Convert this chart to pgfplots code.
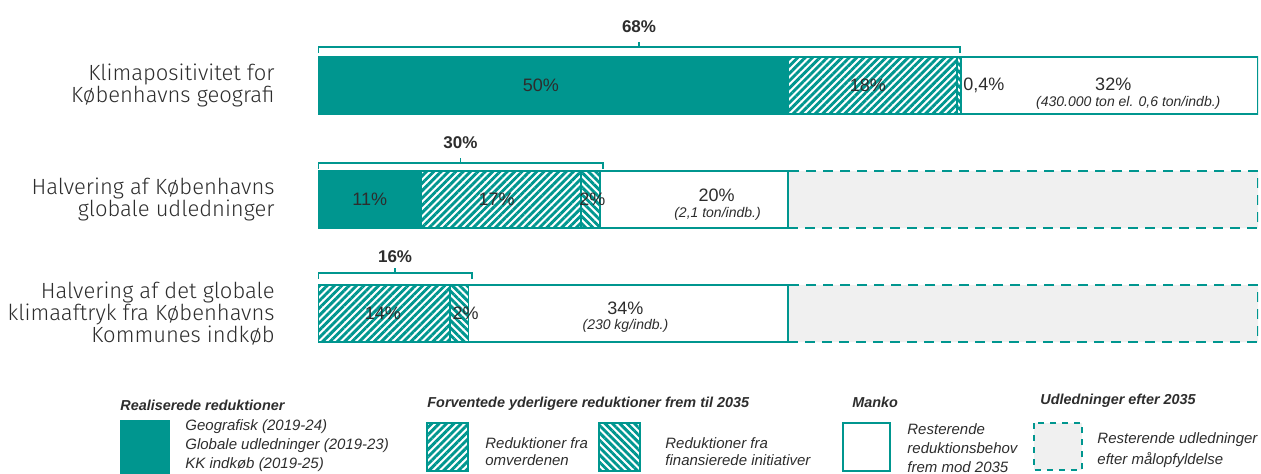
\documentclass[border=0pt]{standalone}
\usepackage{fontspec}
\setmainfont{Liberation Sans}
\newfontfamily\labfont{Fira Sans Light}
\usepackage{pgfplots}
\pgfplotsset{compat=1.18}
\usetikzlibrary{patterns.meta}

\definecolor{kkteal}{RGB}{0,150,143}
\definecolor{kkgrey}{RGB}{240,240,240}
\definecolor{kktext}{RGB}{45,45,45}

\tikzset{
  hatchA/.style={pattern={Lines[angle=45,distance=2.6pt,line width=1.45pt]}, pattern color=kkteal},
  hatchB/.style={pattern={Lines[angle=-45,distance=2.6pt,line width=1.45pt]}, pattern color=kkteal},
  val/.style={font=\fontsize{9}{10}\selectfont, text=kktext, inner sep=0pt},
  sub/.style={font=\itshape\fontsize{7}{8}\selectfont, text=kktext, inner sep=0pt},
  brk/.style={draw=kkteal, line width=0.8pt},
  brklab/.style={font=\bfseries\fontsize{8.5}{10}\selectfont, text=kktext, inner sep=0pt},
  hd/.style={anchor=west, inner sep=0pt, text=kktext, font=\bfseries\itshape\fontsize{7.2}{8}\selectfont},
  lg/.style={anchor=west, inner sep=0pt, text=kktext, font=\itshape\fontsize{7.5}{9}\selectfont},
}

\begin{document}
\begin{tikzpicture}
\path[use as bounding box] (0,0) rectangle (630.5pt,-236.5pt);
\begin{axis}[
  at={(159pt,0pt)}, anchor=north west,
  scale only axis, width=470pt, height=185.25pt,
  xbar stacked, bar width=28.5pt,
  xmin=0, xmax=100, ymin=-0.75, ymax=2.5, y dir=reverse,
  ytick={0,1,2}, xtick=\empty,
  yticklabels={{Klimapositivitet for\\Københavns geografi},
               {Halvering af Københavns\\globale udledninger},
               {Halvering af det globale\\klimaaftryk fra Københavns\\Kommunes indkøb}},
  yticklabel style={align=right, font=\labfont\fontsize{11}{11}\selectfont,
                    text=kktext, inner sep=0pt, xshift=-21.5pt},
  axis line style={draw=none}, major tick length=0pt,
  every axis plot/.append style={line width=0.9pt, draw=kkteal},
]
% realiserede, omverdenen, finansierede, manko, efter 2035
\addplot[fill=kkteal] coordinates {(50,0) (11,1) (0,2)};
\addplot[hatchA] coordinates {(18,0) (17,1) (14,2)};
\addplot[hatchB] coordinates {(0.4,0) (2,1) (2,2)};
\addplot[fill=white] coordinates {(31.6,0) (20,1) (34,2)};
\addplot[fill=kkgrey, dash pattern=on 5pt off 3.5pt] coordinates {(0,0) (50,1) (50,2)};

% anchors for the value labels (drawn after the axis, on top of the bars)
\coordinate (a1) at (axis cs:23.7,0);
\coordinate (a2) at (axis cs:58.5,0);
\coordinate (a3) at (axis cs:68.6,0);
\coordinate (a4) at (axis cs:84.6,-0.013);
\coordinate (a5) at (axis cs:86.2,0.154);
\coordinate (b1) at (axis cs:5.5,1);
\coordinate (b2) at (axis cs:19,1);
\coordinate (b3) at (axis cs:29.2,1);
\coordinate (b4) at (axis cs:42.4,0.96);
\coordinate (b5) at (axis cs:42.5,1.127);
\coordinate (c1) at (axis cs:6.9,2);
\coordinate (c2) at (axis cs:15.7,2);
\coordinate (c3) at (axis cs:32.7,1.95);
\coordinate (c4) at (axis cs:32.7,2.11);

% brackets
\draw[brk] (axis cs:0,-0.285) -- (axis cs:0,-0.338) -- (axis cs:68.3,-0.338) -- (axis cs:68.3,-0.285);
\draw[brk] (axis cs:34.15,-0.338) -- (axis cs:34.15,-0.38);
\node[brklab] at (axis cs:34.15,-0.513) {68\%};
\draw[brk] (axis cs:0,0.73) -- (axis cs:0,0.68) -- (axis cs:30.3,0.68) -- (axis cs:30.3,0.73);
\draw[brk] (axis cs:15.15,0.68) -- (axis cs:15.15,0.64);
\node[brklab] at (axis cs:15.15,0.504) {30\%};
\draw[brk] (axis cs:0,1.70) -- (axis cs:0,1.645) -- (axis cs:16.4,1.645) -- (axis cs:16.4,1.70);
\draw[brk] (axis cs:8.2,1.645) -- (axis cs:8.2,1.60);
\node[brklab] at (axis cs:8.2,1.504) {16\%};
\end{axis}

\node[val] at (a1) {50\%};
\node[val] at (a2) {18\%};
\node[val, anchor=west] at (a3) {0,4\%};
\node[val] at (a4) {32\%};
\node[sub] at (a5) {(430.000 ton el. 0,6 ton/indb.)};
\node[val] at (b1) {11\%};
\node[val] at (b2) {17\%};
\node[val] at (b3) {2\%};
\node[val] at (b4) {20\%};
\node[sub] at (b5) {(2,1 ton/indb.)};
\node[val] at (c1) {14\%};
\node[val] at (c2) {2\%};
\node[val] at (c3) {34\%};
\node[sub] at (c4) {(230 kg/indb.)};

% legend
\begin{scope}[x=0.5pt,y=-0.5pt]
\node[hd] at (120,405) {Realiserede reduktioner};
\node[hd] at (427,404) {Forventede yderligere reduktioner frem til  2035};
\node[hd] at (852,402) {Manko};
\node[hd] at (1040,401) {Udledninger efter 2035};

\fill[kkteal] (120,420) rectangle (170,476);
\draw[kkteal, line width=0.9pt, hatchA] (427,423) rectangle (468,471);
\draw[kkteal, line width=0.9pt, hatchB] (599,423) rectangle (640,471);
\draw[kkteal, line width=0.9pt, fill=white] (843,423) rectangle (890,471);
\draw[kkteal, line width=0.9pt, fill=kkgrey, dash pattern=on 3pt off 3pt] (1034,423) rectangle (1082,470);

\node[lg] at (185,427) {Geografisk (2019-24)};
\node[lg] at (185,446) {Globale udledninger (2019-23)};
\node[lg] at (185,465) {KK indkøb (2019-25)};
\node[lg] at (485,443) {Reduktioner fra};
\node[lg] at (485,460) {omverdenen};
\node[lg] at (665,443) {Reduktioner fra};
\node[lg] at (665,460) {finansierede initiativer};
\node[lg] at (907,429) {Resterende};
\node[lg] at (907,448) {reduktionsbehov};
\node[lg] at (907,467) {frem mod 2035};
\node[lg] at (1097,440) {Resterende udledninger};
\node[lg] at (1097,460) {efter målopfyldelse};
\end{scope}
\end{tikzpicture}
\end{document}
